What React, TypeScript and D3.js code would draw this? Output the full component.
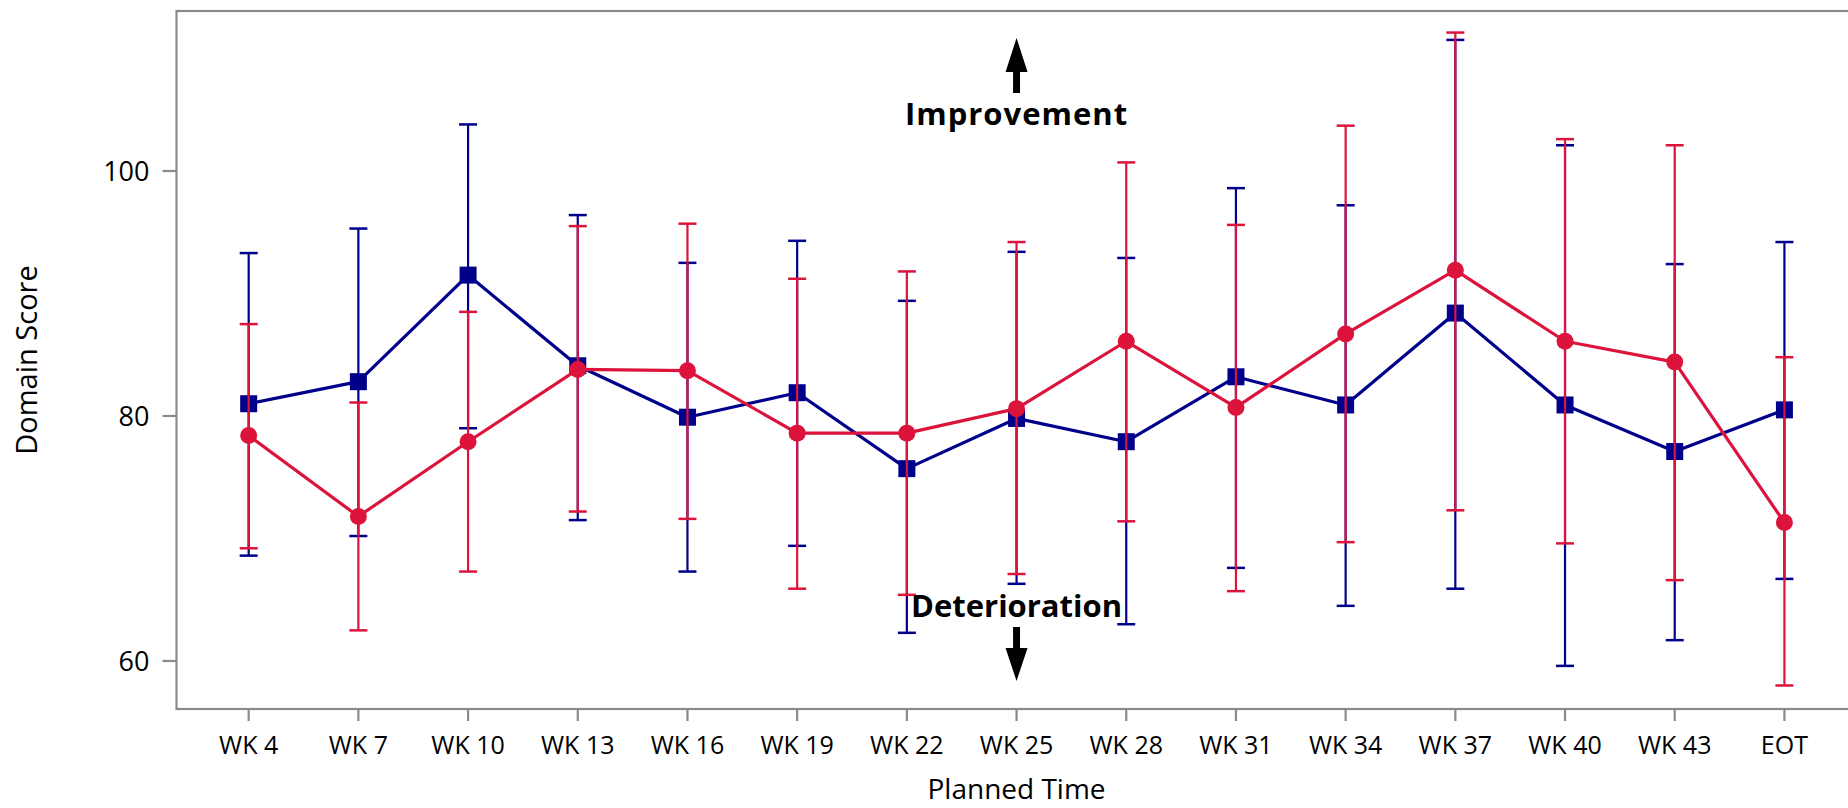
import React from 'react';
import * as d3 from 'd3';

const categories = ['WK 4', 'WK 7', 'WK 10', 'WK 13', 'WK 16', 'WK 19', 'WK 22', 'WK 25', 'WK 28', 'WK 31', 'WK 34', 'WK 37', 'WK 40', 'WK 43', 'EOT'];

const blueMean = [81.0, 82.8, 91.5, 84.1, 79.9, 81.9, 75.7, 79.8, 77.9, 83.2, 80.9, 88.4, 80.9, 77.1, 80.5];
const blueUpper = [93.3, 95.3, 103.8, 96.4, 92.5, 94.3, 89.4, 93.4, 92.9, 98.6, 97.2, 110.7, 102.1, 92.4, 94.2];
const blueLower = [68.6, 70.2, 79.0, 71.5, 67.3, 69.4, 62.3, 66.3, 63.0, 67.6, 64.5, 65.9, 59.6, 61.7, 66.7];

const redMean = [78.4, 71.8, 77.9, 83.8, 83.7, 78.6, 78.6, 80.6, 86.1, 80.7, 86.7, 91.9, 86.1, 84.4, 71.3];
const redUpper = [87.5, 81.1, 88.5, 95.5, 95.7, 91.2, 91.8, 94.2, 100.7, 95.6, 103.7, 111.3, 102.6, 102.1, 84.8];
const redLower = [69.2, 62.5, 67.3, 72.2, 71.6, 65.9, 65.4, 67.1, 71.4, 65.7, 69.7, 72.3, 69.6, 66.6, 58.0];

const yTicks = [60, 80, 100];

const W = 1848;
const H = 808;
const left = 176.5;
const right = 1856.6;
const top = 11;
const bottom = 709;
const font = '"Open Sans", "Noto Sans", sans-serif';
const axisColor = '#8a8a8a';
const BLUE = '#00008B';
const RED = '#DC143C';

const x = d3.scalePoint<string>().domain(categories).range([left, right]).padding(0.658);
const y = d3.scaleLinear().domain([56.08, 113.06]).range([bottom, top]);

type Series = { mean: number[]; upper: number[]; lower: number[]; color: string; marker: 'square' | 'circle' };

const series: Series[] = [
  { mean: blueMean, upper: blueUpper, lower: blueLower, color: BLUE, marker: 'square' },
  { mean: redMean, upper: redUpper, lower: redLower, color: RED, marker: 'circle' },
];

const line = d3.line<[string, number]>()
  .x(d => x(d[0]) as number)
  .y(d => y(d[1]));

const SeriesGroup: React.FC<{ s: Series }> = ({ s }) => {
  const pts: [string, number][] = categories.map((c, i) => [c, s.mean[i]]);
  return (
    <g>
      {categories.map((c, i) => {
        const cx = x(c) as number;
        return (
          <g key={c} stroke={s.color} strokeWidth={2.2}>
            <line x1={cx} x2={cx} y1={y(s.upper[i])} y2={y(s.lower[i])} />
            <line x1={cx - 9} x2={cx + 9} y1={y(s.upper[i])} y2={y(s.upper[i])} strokeWidth={2.5} />
            <line x1={cx - 9} x2={cx + 9} y1={y(s.lower[i])} y2={y(s.lower[i])} strokeWidth={2.5} />
          </g>
        );
      })}
      <path d={line(pts) || ''} fill="none" stroke={s.color} strokeWidth={3.2} strokeLinejoin="round" />
      {pts.map(([c, v]) =>
        s.marker === 'square' ? (
          <rect key={c} x={(x(c) as number) - 8.5} y={y(v) - 8.5} width={17} height={17} fill={s.color} />
        ) : (
          <circle key={c} cx={x(c) as number} cy={y(v)} r={8.5} fill={s.color} />
        )
      )}
    </g>
  );
};

const App: React.FC = () => {
  const ax = x('WK 25') as number;
  return (
    <svg width={W} height={H} style={{ position: 'absolute', left: 0, top: 0, background: '#fff' }} fontFamily={font}>
      {/* frame */}
      <rect x={left} y={top} width={right - left} height={bottom - top} fill="none" stroke={axisColor} strokeWidth={2.2} />

      {/* y axis */}
      {yTicks.map(t => (
        <g key={t}>
          <line x1={left - 14} x2={left} y1={y(t)} y2={y(t)} stroke={axisColor} strokeWidth={2.2} />
          <text x={left - 27} y={y(t)} dy="0.36em" textAnchor="end" fontSize={27} fill="#000">{t}</text>
        </g>
      ))}
      <text transform={`translate(27,${(top + bottom) / 2}) rotate(-90)`} textAnchor="middle" dy="0.36em" fontSize={29} fill="#000">Domain Score</text>

      {/* x axis */}
      {categories.map(c => (
        <g key={c}>
          <line x1={x(c) as number} x2={x(c) as number} y1={bottom} y2={bottom + 12} stroke={axisColor} strokeWidth={2.2} />
          <text x={x(c) as number} y={754} textAnchor="middle" fontSize={25} fill="#000">{c}</text>
        </g>
      ))}
      <text x={ax} y={799} textAnchor="middle" fontSize={28} fill="#000">Planned Time</text>

      {series.map((s, i) => <SeriesGroup key={i} s={s} />)}

      {/* annotations */}
      <path d={`M${ax},38 L${ax - 11},72 L${ax - 3.5},72 L${ax - 3.5},93 L${ax + 3.5},93 L${ax + 3.5},72 L${ax + 11},72 Z`} fill="#000" />
      <text x={ax} y={125} textAnchor="middle" fontSize={31} fontWeight="bold" letterSpacing={1} fill="#000">Improvement</text>
      <text x={ax} y={617} textAnchor="middle" fontSize={31} fontWeight="bold" fill="#000">Deterioration</text>
      <path d={`M${ax},681 L${ax - 11},648 L${ax - 3.5},648 L${ax - 3.5},627 L${ax + 3.5},627 L${ax + 3.5},648 L${ax + 11},648 Z`} fill="#000" />
    </svg>
  );
};

export default App;
